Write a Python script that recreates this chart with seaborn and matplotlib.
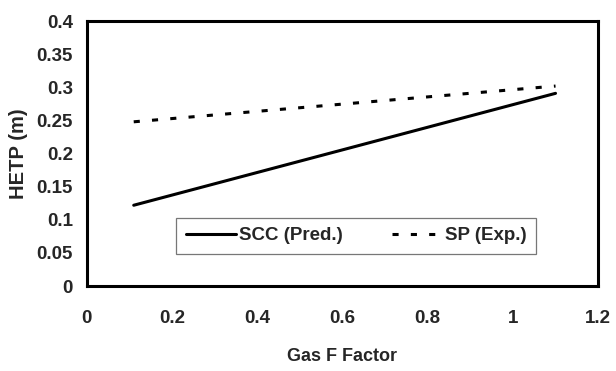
import numpy as np
import pandas as pd
import matplotlib.pyplot as plt
import seaborn as sns

# values
gas_f = [0.11, 1.1]
scc_pred = [0.122, 0.291]
sp_exp = [0.248, 0.302]

df = pd.DataFrame({
    'Gas F Factor': gas_f + gas_f,
    'HETP': scc_pred + sp_exp,
    'Series': ['SCC (Pred.)'] * len(gas_f) + ['SP (Exp.)'] * len(gas_f),
})

sns.set_style('white')
plt.rcParams['font.family'] = ['Liberation Sans', 'DejaVu Sans']
plt.rcParams['font.weight'] = 'bold'

fig = plt.figure(figsize=(6.16, 3.71), dpi=100)
ax = fig.add_axes([0.141, 0.229, 0.830, 0.714])

sns.lineplot(data=df, x='Gas F Factor', y='HETP', style='Series',
             dashes={'SCC (Pred.)': '', 'SP (Exp.)': (2.0, 4.0)},
             color='black', linewidth=2.2, ax=ax)

ax.set_xlim(0, 1.2)
ax.set_ylim(0, 0.4)
ax.set_xticks(np.arange(0, 1.21, 0.2))
ax.set_yticks(np.arange(0, 0.41, 0.05))
ax.set_xticklabels(['0', '0.2', '0.4', '0.6', '0.8', '1', '1.2'])
ax.set_yticklabels(['0', '0.05', '0.1', '0.15', '0.2', '0.25', '0.3', '0.35', '0.4'])

for s in ax.spines.values():
    s.set_linewidth(2.2)
    s.set_color('black')

ax.tick_params(axis='x', direction='inout', length=10, width=0.8, labelsize=13.5, pad=12)
ax.tick_params(axis='y', direction='inout', length=8, width=0.8, labelsize=13.5, pad=6)
for lab in ax.get_xticklabels() + ax.get_yticklabels():
    lab.set_fontweight('bold')

ax.set_xlabel('Gas F Factor', fontsize=13, fontweight='bold')
ax.set_ylabel('HETP (m)', fontsize=14.5, fontweight='bold')
ax.xaxis.set_label_coords(0.5, -0.235)
ax.yaxis.set_label_coords(-0.115, 0.5)

leg = ax.legend(ncol=2, loc='center', bbox_to_anchor=(0.527, 0.19),
                frameon=True, fancybox=False, fontsize=13.5,
                handlelength=2.7, handletextpad=0.15, columnspacing=2.6,
                borderpad=0.5, borderaxespad=0)
leg.get_frame().set_edgecolor('#555555')
leg.get_frame().set_linewidth(0.9)
for t in leg.get_texts():
    t.set_fontweight('bold')

fig.savefig('out.png', dpi=100)
